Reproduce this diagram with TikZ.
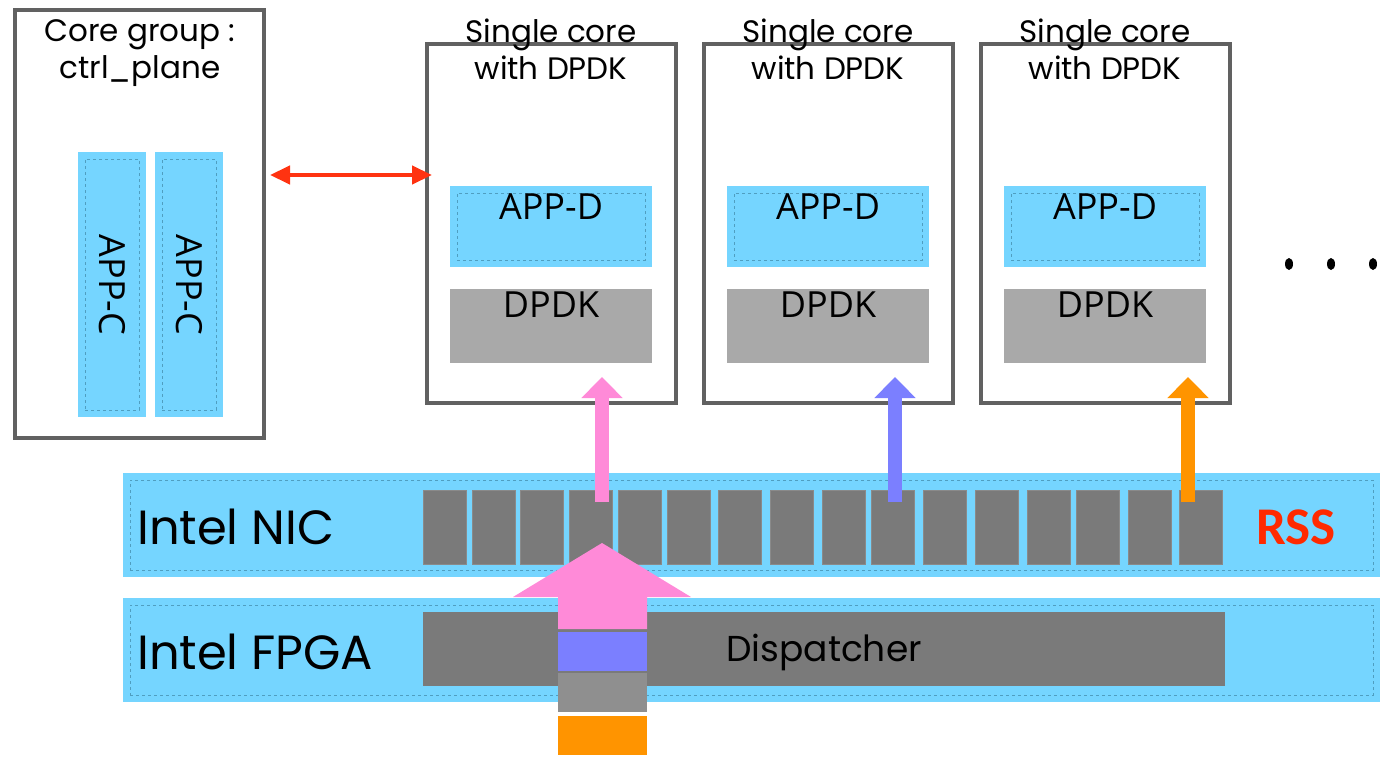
\documentclass[tikz,border=0pt]{standalone}
\usepackage{fontspec}
\setmainfont{Poppins}
\newfontfamily\hfont{Open Sans}
\newfontfamily\rfont{Carlito}
\usetikzlibrary{arrows.meta}
\definecolor{boxgray}{HTML}{616161}
\definecolor{appblue}{HTML}{75D5FF}
\definecolor{dashblue}{HTML}{4F9EC0}
\definecolor{dpdkgray}{HTML}{A9A9A9}
\definecolor{qgray}{HTML}{7A7A7A}
\definecolor{qedge}{HTML}{8A8A8A}
\definecolor{linkred}{HTML}{FF3311}
\definecolor{pinkc}{HTML}{FF8AD8}
\definecolor{bluec}{HTML}{7B7FFF}
\definecolor{orangec}{HTML}{FF9400}
\definecolor{pktgray}{HTML}{8F8F8F}
\definecolor{rssred}{HTML}{FF2A00}
\begin{document}
\begin{tikzpicture}[x=1pt,y=-1pt,
  nw/.style={anchor=north west,inner sep=0pt,outer sep=0pt},
  corebox/.style={nw,draw=boxgray,line width=4pt,fill=white},
  bluebox/.style={nw,fill=appblue},
  innerdash/.style={nw,draw=dashblue,dashed,line width=0.6pt},
  dpdkbox/.style={nw,fill=dpdkgray},
  queue/.style={nw,fill=qgray,draw=qedge,line width=0.5pt,minimum width=43pt,minimum height=74pt},
  title/.style={align=center,font=\fontsize{31}{37}\selectfont,inner sep=0pt},
  boxtext/.style={font=\hfont\fontsize{36}{40}\selectfont,inner sep=0pt},
  bartext/.style={font=\fontsize{48}{52}\selectfont,anchor=base west,inner sep=0pt},
  smallarrow/.style={line width=14pt,-{Triangle[width=40pt,length=21pt]}},
  linkarrow/.style={line width=4.5pt,linkred,{Triangle[width=18pt,length=20pt]}-{Triangle[width=18pt,length=20pt]}}
]
\useasboundingbox (0,0) rectangle (1384,757);

% core group
\node[corebox,minimum width=249pt,minimum height=428pt] (cg) at (15,10) {};
\node[title] (cgt) at (140,53) {Core group :\\ctrl\_plane};
\foreach \i/\x in {1/78,2/155}{
  \node[bluebox,minimum width=68pt,minimum height=265pt] (appc\i) at (\x,152) {};
  \node[innerdash,minimum width=54pt,minimum height=251pt] at (\x+7,159) {};
  \node[boxtext,rotate=-90] (appct\i) at (\x+34,285) {APP-C};
}

% single cores
\foreach \i/\dx in {1/0,2/277,3/554}{
  \node[corebox,minimum width=249pt,minimum height=359pt] (core\i) at (427+\dx,44) {};
  \node[title] (coret\i) at (551+\dx,49) {Single core\\with DPDK};
  \node[bluebox,minimum width=202pt,minimum height=81pt] (appd\i) at (450+\dx,186) {};
  \node[innerdash,minimum width=188pt,minimum height=67pt] at (457+\dx,193) {};
  \node[boxtext] (appdt\i) at (551+\dx,207) {APP-D};
  \node[dpdkbox,minimum width=202pt,minimum height=74pt] (dpdk\i) at (450+\dx,289) {};
  \node[boxtext] (dpdkt\i) at (551+\dx,305) {DPDK};
}

% dots
\foreach \x in {1289,1331,1373}{\fill (\x,264) ellipse (4pt and 6pt);}

% NIC
\node[bluebox,minimum width=1257pt,minimum height=104pt] (nic) at (123,473) {};
\node[innerdash,minimum width=1243pt,minimum height=90pt] at (130,480) {};
\node[bartext] (nict) at (137,544) {Intel NIC};
\foreach \i/\x in {1/423,2/472,3/520,4/569,5/618,6/667,7/718,8/770,9/822,10/871,11/923,12/975,13/1027,14/1076,15/1128,16/1179}{
  \node[queue] (q\i) at (\x,490) {};
}
\node[font=\rfont\bfseries\fontsize{53}{55}\selectfont,text=rssred,anchor=base west,inner sep=0pt] (rss) at (1256,544) {RSS};

% FPGA
\node[bluebox,minimum width=1257pt,minimum height=104pt] (fpga) at (123,598) {};
\node[innerdash,minimum width=1243pt,minimum height=90pt] at (130,605) {};
\node[bartext] (fpgat) at (137,669) {Intel FPGA};
\node[nw,fill=qgray,minimum width=802pt,minimum height=74pt] (disp) at (423,612) {};
\node[font=\fontsize{36}{40}\selectfont,inner sep=0pt] (dispt) at (824,652) {Dispatcher};

% packets and big arrow
\fill[pinkc] (602,543) -- (691,597) -- (647,597) -- (647,629) -- (558,629) -- (558,597) -- (513,597) -- cycle;
\node[nw,fill=bluec,minimum width=89pt,minimum height=39pt] (pkt1) at (558,632) {};
\node[nw,fill=pktgray,minimum width=89pt,minimum height=39pt] (pkt2) at (558,673) {};
\node[nw,fill=orangec,minimum width=89pt,minimum height=39pt] (pkt3) at (558,716) {};

% queue to core arrows
\coordinate (a1s) at (602,502); \coordinate (a1e) at (602,377);
\coordinate (a2s) at (895,502); \coordinate (a2e) at (895,377);
\coordinate (a3s) at (1188,502); \coordinate (a3e) at (1188,377);
\draw[smallarrow,pinkc] (a1s) -- (a1e);
\draw[smallarrow,bluec] (a2s) -- (a2e);
\draw[smallarrow,orangec] (a3s) -- (a3e);

% control link
\coordinate (lk) at (270,175);
\draw[linkarrow] (lk) -- ([xshift=5pt]core1.west |- lk);
\end{tikzpicture}
\end{document}
